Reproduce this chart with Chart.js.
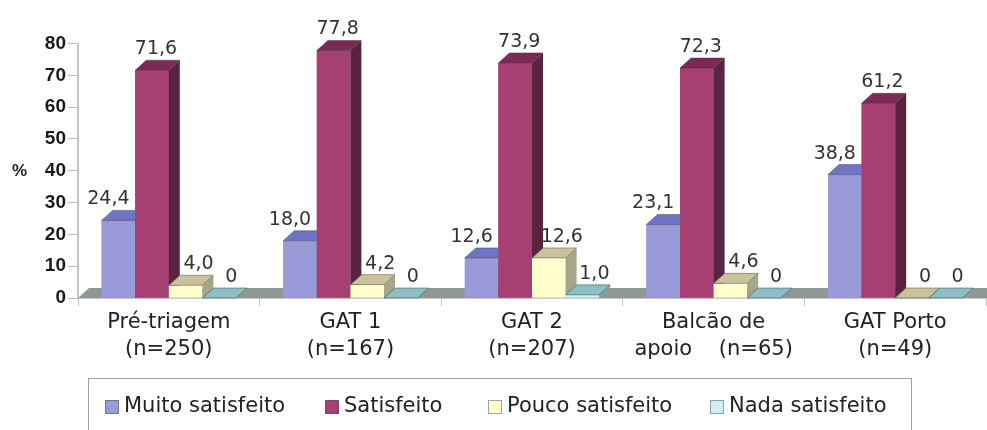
<!DOCTYPE html>
<html>
<head>
<meta charset="utf-8">
<script src="https://cdn.jsdelivr.net/npm/chart.js@4.4.1/dist/chart.umd.min.js"></script>
<style>
  html, body { margin: 0; padding: 0; background: #fff; }
  #wrap { width: 987px; height: 430px; position: relative; }
</style>
</head>
<body>
<div id="wrap"><canvas id="chart"></canvas></div>
<script>
// groups and their sample sizes
const categories = [
  ["Pré-triagem", "(n=250)"],
  ["GAT 1", "(n=167)"],
  ["GAT 2", "(n=207)"],
  ["Balcão de", "apoio    (n=65)"],
  ["GAT Porto", "(n=49)"],
];
const seriesNames = ["Muito satisfeito", "Satisfeito", "Pouco satisfeito", "Nada satisfeito"];

// percentages per satisfaction level
const muitoSatisfeito = [24.4, 18.0, 12.6, 23.1, 38.8];
const satisfeito = [71.6, 77.8, 73.9, 72.3, 61.2];
const poucoSatisfeito = [4.0, 4.2, 12.6, 4.6, 0];
const nadaSatisfeito = [0, 0, 1.0, 0, 0];

const yTicks = [0, 10, 20, 30, 40, 50, 60, 70, 80];

// shades for the three visible faces of each column
const faces = [
  { front: "#9a9ad8", top: "#6f74c6", side: "#5b5e9e" },
  { front: "#a63f72", top: "#7c2a54", side: "#5a2340" },
  { front: "#ffffcc", top: "#c9c29b", side: "#a6a688" },
  { front: "#cff0f0", top: "#8cbfc4", side: "#76a6aa" },
];
const FLOOR = "#8e9995";
const DX = 11, DY = 10;               // depth offset of the 3d look
const labelShift = [-10, 4, 13, 12];  // horizontal nudge of value labels

const fmt = v => (v === 0 ? "0" : v.toFixed(1).replace(".", ","));

const bars3d = {
  id: "bars3d",
  beforeDatasetsDraw(chart) {
    const { ctx, chartArea: a } = chart;
    ctx.save();
    ctx.fillStyle = FLOOR;
    ctx.beginPath();
    ctx.moveTo(a.left, a.bottom);
    ctx.lineTo(a.right + DX, a.bottom);
    ctx.lineTo(a.right + DX, a.bottom - DY);
    ctx.lineTo(a.left + DX, a.bottom - DY);
    ctx.closePath();
    ctx.fill();
    ctx.restore();
  },
  // repaint every column as a box, left series first so the next
  // column's front hides the previous one's side
  afterDatasetsDraw(chart) {
    const { ctx } = chart;
    ctx.save();
    ctx.lineWidth = 1;
    chart.data.datasets.forEach((ds, i) => {
      const f = faces[i];
      chart.getDatasetMeta(i).data.forEach(bar => {
        const { x, y, base, width } = bar.getProps(["x", "y", "base", "width"], true);
        const l = x - width / 2, r = x + width / 2;
        if (base - y > 0.5) {
          ctx.fillStyle = f.front;
          ctx.fillRect(l, y, width, base - y);
          ctx.fillStyle = f.side;
          ctx.beginPath();
          ctx.moveTo(r, y);
          ctx.lineTo(r + DX, y - DY);
          ctx.lineTo(r + DX, base - DY);
          ctx.lineTo(r, base);
          ctx.closePath();
          ctx.fill();
        }
        ctx.fillStyle = f.top;
        ctx.strokeStyle = "rgba(60,60,60,0.45)";
        ctx.beginPath();
        ctx.moveTo(l, y);
        ctx.lineTo(l + DX, y - DY);
        ctx.lineTo(r + DX, y - DY);
        ctx.lineTo(r, y);
        ctx.closePath();
        ctx.fill();
        ctx.stroke();
      });
    });

    ctx.font = "19px 'DejaVu Sans'";
    ctx.fillStyle = "#333";
    ctx.textAlign = "center";
    ctx.textBaseline = "middle";
    chart.data.datasets.forEach((ds, i) => {
      chart.getDatasetMeta(i).data.forEach((bar, j) => {
        ctx.fillText(fmt(ds.data[j]), bar.x + labelShift[i], bar.y - 21);
      });
    });
    ctx.restore();
  },
  afterDraw(chart) {
    const { ctx } = chart;
    ctx.save();
    // unit
    ctx.font = "bold 17px 'Liberation Sans'";
    ctx.fillStyle = "#222";
    ctx.textAlign = "left";
    ctx.textBaseline = "middle";
    ctx.fillText("%", 12, chart.scales.y.getPixelForValue(40) + 1);

    // legend
    ctx.strokeStyle = "#a0a0a0";
    ctx.lineWidth = 1;
    ctx.strokeRect(88.5, 378.5, 823, 60);
    const boxX = [105, 325, 488, 710];
    ctx.font = "21px 'DejaVu Sans'";
    seriesNames.forEach((name, i) => {
      ctx.fillStyle = faces[i].front;
      ctx.fillRect(boxX[i], 400, 14, 14);
      ctx.strokeStyle = "rgba(80,80,80,0.5)";
      ctx.strokeRect(boxX[i] + 0.5, 400.5, 13, 13);
      ctx.fillStyle = "#222";
      ctx.fillText(name, boxX[i] + 19, 407);
    });
    ctx.restore();
  },
};

const values = [muitoSatisfeito, satisfeito, poucoSatisfeito, nadaSatisfeito];

new Chart(document.getElementById("chart"), {
  type: "bar",
  data: {
    labels: categories,
    datasets: values.map((data, i) => ({
      label: seriesNames[i],
      data,
      backgroundColor: faces[i].front,
      borderWidth: 0,
      categoryPercentage: 0.74,
      barPercentage: 1.0,
    })),
  },
  options: {
    responsive: true,
    maintainAspectRatio: false,
    animation: false,
    layout: { padding: { top: 43.5, right: 1, left: 0, bottom: 0 } },
    plugins: { legend: { display: false }, tooltip: { enabled: false } },
    scales: {
      x: {
        afterFit: s => { s.height = 132; },
        grid: { drawOnChartArea: false, tickLength: 8, color: "#c4c4c4" },
        border: { color: "#c8c8c8" },
        ticks: {
          padding: 3,
          color: "#222",
          font: { family: "DejaVu Sans", size: 21, lineHeight: 1.29 },
        },
      },
      y: {
        min: yTicks[0],
        max: yTicks[yTicks.length - 1],
        afterFit: s => { s.width = 78; },
        grid: { drawOnChartArea: false, tickLength: 10, color: "#b8b8b8" },
        border: { color: "#c4c4c4", width: 2 },
        ticks: {
          stepSize: yTicks[1] - yTicks[0],
          padding: 2,
          color: "#1a1a1a",
          font: { family: "Liberation Sans", size: 19, weight: "bold" },
        },
      },
    },
  },
  plugins: [bars3d],
});
</script>
</body>
</html>
